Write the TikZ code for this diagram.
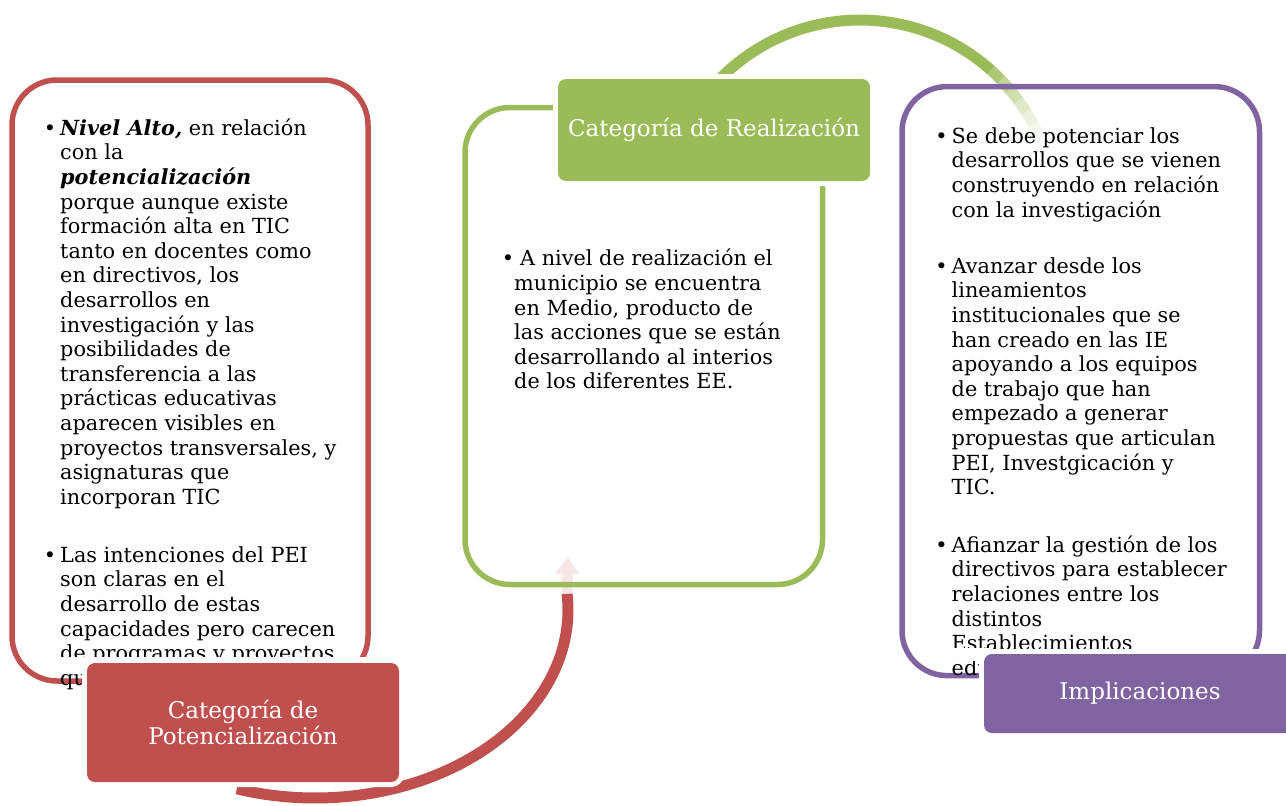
\documentclass[tikz,border=0pt]{standalone}
\usepackage{fontspec}
\setmainfont{DejaVu Serif}
\usetikzlibrary{arrows.meta}
\definecolor{redc}{HTML}{C0504D}
\definecolor{greenc}{HTML}{9BBB59}
\definecolor{purplec}{HTML}{8064A2}
\definecolor{palered}{HTML}{F6E6E6}
\newcommand\bodyfnt{\fontsize{20.8}{24.6}\selectfont}
\newcommand\lblfnt{\fontsize{23}{26.5}\selectfont}
\newcommand\bul{\llap{\textbullet\hspace{4pt}}}
\begin{document}
\begin{tikzpicture}[x=1pt,y=-1pt,
  frame/.style={draw, rounded corners=45pt, line width=5.5pt, inner sep=0pt},
  catlabel/.style={rounded corners=8pt, text=white, inner sep=0pt, font=\lblfnt, align=center,
    preaction={draw=white, line width=10pt}},
  body/.style={anchor=north west, inner sep=0pt, align=left, font=\bodyfnt},
  arcline/.style={line width=11pt}]
\clip (0,0) rectangle (1286,806);
\useasboundingbox (0,0) rectangle (1286,806);

% cycle arcs
\draw[arcline, redc] plot[domain=-5:108, samples=60] ({315+253*cos(\x)},{610+188*sin(\x)});
\coordinate (redbase) at ({315+253*cos(-5)},{610+188*sin(-5)});
\coordinate (redtip) at (567.5,557);
\draw[arcline, palered, -{Triangle[width=23pt,length=17pt]}] (redbase) -- (redtip);

\draw[arcline, greenc] plot[domain=48:142, samples=50] ({860+196*cos(\x)},{216-196*sin(\x)});
\foreach \a/\b/\c in {48/44/82, 44/40/64, 40/36/48, 36/32/33, 32/28/20, 28/24/11}
  \draw[arcline, greenc!\c!white] plot[domain=\a:\b, samples=6] ({860+196*cos(\x)},{216-196*sin(\x)});

% frames
\node[frame, draw=greenc, minimum width=357.5pt, minimum height=477pt] (greenframe) at (643.75,346) {};
\node[frame, draw=redc, minimum width=356pt, minimum height=601pt] (redframe) at (190,380.5) {};
\node[frame, draw=purplec, minimum width=357.5pt, minimum height=589pt] (purpleframe) at (1080.75,381.1) {};

% texts
\node[body] (redtxtA) at (60,117.8) {\strut\bul\textbf{\textit{Nivel Alto,}} en relación\\
con la\\
\textbf{\textit{potencialización}}\\
porque aunque existe\\
formación alta en TIC\\
tanto en docentes como\\
en directivos, los\\
desarrollos en\\
investigación y las\\
posibilidades de\\
transferencia a las\\
prácticas educativas\\
aparecen visibles en\\
proyectos transversales, y\\
asignaturas que\\
incorporan TIC};
\node[body] (redtxtB) at (60,544.8) {\strut\bul Las intenciones del PEI\\
son claras en el\\
desarrollo de estas\\
capacidades pero carecen\\
de programas y proyectos\\
qu};

\node[body] (greentxt) at (514,248.5) {\strut\llap{\textbullet\hspace{0pt}}\hspace{6pt}A nivel de realización el\\
municipio se encuentra\\
en Medio, producto de\\
las acciones que se están\\
desarrollando al interios\\
de los diferentes EE.};

\node[body] (purtxtA) at (951.5,125.8) {\strut\bul Se debe potenciar los\\
desarrollos que se vienen\\
construyendo en relación\\
con la investigación};
\node[body] (purtxtB) at (951.5,255.8) {\strut\bul Avanzar desde los\\
lineamientos\\
institucionales que se\\
han creado en las IE\\
apoyando a los equipos\\
de trabajo que han\\
empezado a generar\\
propuestas que articulan\\
PEI, Investgicación y\\
TIC.};
\node[body] (purtxtC) at (951.5,534.8) {\strut\bul Afianzar la gestión de los\\
directivos para establecer\\
relaciones entre los\\
distintos\\
Establecimientos\\
edu};

% text cut-off bands
\fill[white] (40,656.5) rectangle (404,668);
\fill[white] (935,647.5) rectangle (990,661);

% category labels
\node[catlabel, fill=redc, minimum width=312pt, minimum height=119pt] (redlbl) at (243,722.5) {Categoría de\\Potencialización};
\node[catlabel, fill=greenc, minimum width=312pt, minimum height=102pt] (greenlbl) at (714,130) {Categoría de Realización};
\node[catlabel, fill=purplec, minimum width=312pt, minimum height=79pt] (purplelbl) at (1140,693.5) {Implicaciones};
\end{tikzpicture}
\end{document}
